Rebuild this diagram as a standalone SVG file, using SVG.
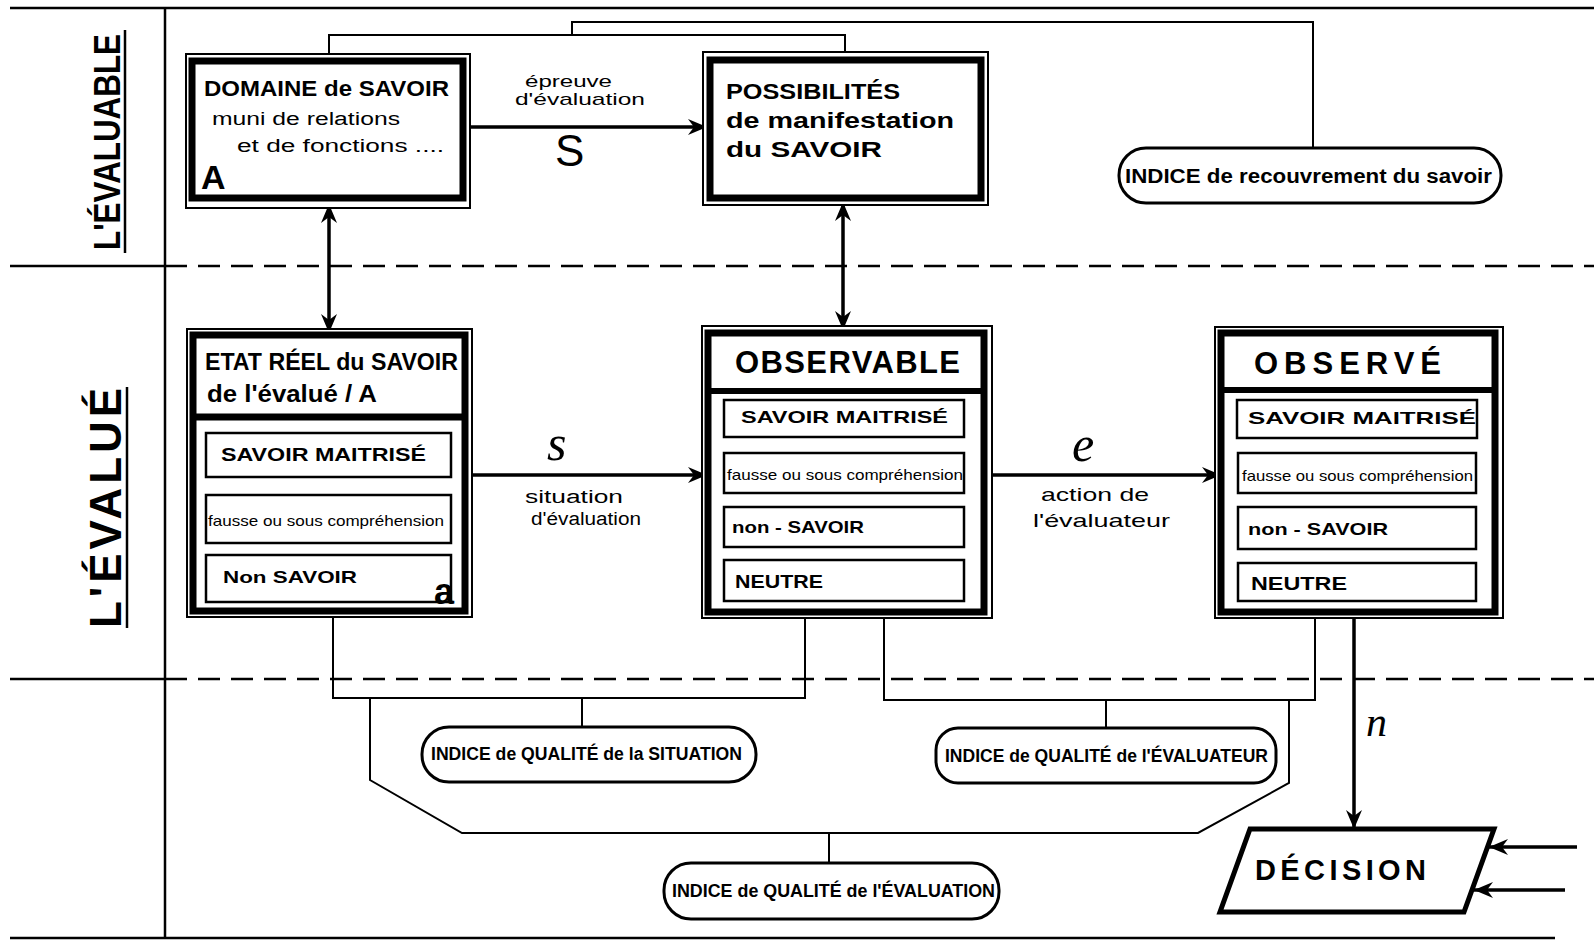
<svg xmlns="http://www.w3.org/2000/svg" width="1594" height="940" viewBox="0 0 1594 940">
<defs>
<style>
.t{font-family:"Liberation Sans",Arial,sans-serif;fill:#000}
.b{font-weight:bold}
.sc{font-family:"Liberation Serif","Times New Roman",serif;font-style:italic;fill:#000}
.ln{fill:none;stroke:#000;stroke-width:2}
.ar{fill:none;stroke:#000;stroke-width:3.5}
.ob{fill:#fff;stroke:#000;stroke-width:2}
.ib{fill:none;stroke:#000;stroke-width:7}
.sb{fill:none;stroke:#000;stroke-width:2.5}
.pill{fill:#fff;stroke:#000;stroke-width:3}
.solid{stroke:#000;stroke-width:2.5}
.dash{stroke:#000;stroke-width:2.5;stroke-dasharray:22 11}
</style>
<marker id="ah" markerUnits="userSpaceOnUse" viewBox="0 0 20 20" markerWidth="20" markerHeight="20" refX="19" refY="10" orient="auto-start-reverse">
<path d="M0,2 L19,10 L0,18 L6,10 Z" fill="#000"/>
</marker>
</defs>
<rect x="0" y="0" width="1594" height="940" fill="#fff"/>

<g id="frame">
<line class="solid" x1="10" y1="8" x2="1594" y2="8"/>
<line class="solid" x1="10" y1="938" x2="1555" y2="938"/>
<line class="solid" x1="165" y1="8" x2="165" y2="938"/>
<line class="solid" x1="10" y1="266" x2="165" y2="266"/>
<line class="dash" x1="165" y1="266" x2="1594" y2="266"/>
<line class="solid" x1="10" y1="679" x2="165" y2="679"/>
<line class="dash" x1="165" y1="679" x2="1594" y2="679"/>
</g>

<g id="lane-evaluable" transform="translate(120,250) rotate(-90)">
<text class="t b" x="0" y="0" font-size="36" textLength="216" lengthAdjust="spacingAndGlyphs">L'ÉVALUABLE</text>
</g>
<line class="solid" x1="125" y1="30" x2="125" y2="253" stroke-width="3"/>
<g id="lane-evalue" transform="translate(121,628) rotate(-90)">
<text class="t b" x="0" y="0" font-size="44" textLength="240" lengthAdjust="spacing">L'ÉVALUÉ</text>
</g>
<line class="solid" x1="127" y1="387" x2="127" y2="628" stroke-width="3"/>

<g id="connectors">
<path class="ln" d="M329,54 V35 H845 V52"/>
<path class="ln" d="M572,35 V22 H1313 V148"/>
<path class="ln" d="M333,617 V698 H805 V618"/>
<path class="ln" d="M370,698 V780 L462,833 H1198 L1289,783 V700"/>
<path class="ln" d="M582,698 V727"/>
<path class="ln" d="M884,618 V700 H1315 V618"/>
<path class="ln" d="M1106,700 V728"/>
<path class="ln" d="M829,833 V863"/>
<line class="ar" x1="470" y1="127" x2="707" y2="127" marker-end="url(#ah)"/>
<line class="ar" x1="329" y1="204" x2="329" y2="333" marker-start="url(#ah)" marker-end="url(#ah)"/>
<line class="ar" x1="843" y1="202" x2="843" y2="330" marker-start="url(#ah)" marker-end="url(#ah)"/>
<line class="ar" x1="472" y1="475" x2="707" y2="475" marker-end="url(#ah)"/>
<line class="ar" x1="992" y1="475" x2="1221" y2="475" marker-end="url(#ah)"/>
<line class="ar" x1="1354" y1="618" x2="1354" y2="829" marker-end="url(#ah)"/>
<line class="ar" x1="1577" y1="847" x2="1489" y2="847" marker-end="url(#ah)"/>
<line class="ar" x1="1565" y1="890" x2="1474" y2="890" marker-end="url(#ah)"/>
<text class="t" x="525" y="87" font-size="17" textLength="87" lengthAdjust="spacingAndGlyphs">épreuve</text>
<text class="t" x="515" y="105" font-size="17" textLength="130" lengthAdjust="spacingAndGlyphs">d'évaluation</text>
<text class="t" x="555" y="166" font-size="44">S</text>
<text class="sc" x="547" y="460" font-size="50">s</text>
<text class="t" x="525" y="503" font-size="18" textLength="98" lengthAdjust="spacingAndGlyphs">situation</text>
<text class="t" x="531" y="525" font-size="18" textLength="110" lengthAdjust="spacingAndGlyphs">d'évaluation</text>
<text class="sc" x="1072" y="461" font-size="50">e</text>
<text class="t" x="1041" y="501" font-size="19" textLength="108" lengthAdjust="spacingAndGlyphs">action de</text>
<text class="t" x="1033" y="527" font-size="19" textLength="137" lengthAdjust="spacingAndGlyphs">l'évaluateur</text>
<text class="sc" x="1366" y="736" font-size="42">n</text>
</g>

<g id="domaine">
<rect class="ob" x="186" y="54" width="284" height="154"/>
<rect class="ib" x="192" y="61" width="271" height="137"/>
<text class="t b" x="204" y="96" font-size="22" textLength="245" lengthAdjust="spacingAndGlyphs">DOMAINE de SAVOIR</text>
<text class="t" x="212" y="125" font-size="18" textLength="188" lengthAdjust="spacingAndGlyphs">muni de relations</text>
<text class="t" x="237" y="152" font-size="18" textLength="207" lengthAdjust="spacingAndGlyphs">et de fonctions ....</text>
<text class="t b" x="201" y="189" font-size="34">A</text>
</g>

<g id="possibilites">
<rect class="ob" x="703" y="52" width="285" height="153"/>
<rect class="ib" x="710" y="60" width="271" height="138"/>
<text class="t b" x="726" y="99" font-size="22" textLength="174" lengthAdjust="spacingAndGlyphs">POSSIBILITÉS</text>
<text class="t b" x="726" y="128" font-size="22" textLength="228" lengthAdjust="spacingAndGlyphs">de manifestation</text>
<text class="t b" x="726" y="157" font-size="22" textLength="156" lengthAdjust="spacingAndGlyphs">du SAVOIR</text>
</g>

<g id="indice-recouvrement">
<rect class="pill" x="1119" y="148" width="382" height="55" rx="27"/>
<text class="t b" x="1125" y="183" font-size="20" textLength="367" lengthAdjust="spacingAndGlyphs">INDICE de recouvrement du savoir</text>
</g>

<g id="etat-reel">
<rect class="ob" x="187" y="329" width="285" height="288"/>
<rect class="ib" x="193" y="335" width="272" height="276"/>
<line x1="193" y1="417" x2="465" y2="417" stroke="#000" stroke-width="7"/>
<text class="t b" x="205" y="370" font-size="23" textLength="253" lengthAdjust="spacingAndGlyphs">ETAT RÉEL du SAVOIR</text>
<text class="t b" x="207" y="402" font-size="23" textLength="170" lengthAdjust="spacingAndGlyphs">de l'évalué / A</text>
<rect class="sb" x="206" y="433" width="245" height="44"/>
<text class="t b" x="221" y="461" font-size="18" textLength="205" lengthAdjust="spacingAndGlyphs">SAVOIR MAITRISÉ</text>
<rect class="sb" x="206" y="495" width="245" height="48"/>
<text class="t" x="208" y="526" font-size="15" textLength="236" lengthAdjust="spacingAndGlyphs">fausse ou sous compréhension</text>
<rect class="sb" x="206" y="555" width="245" height="47"/>
<text class="t b" x="223" y="583" font-size="17" textLength="134" lengthAdjust="spacingAndGlyphs">Non SAVOIR</text>
<text class="t b" x="434" y="604" font-size="36">a</text>
</g>

<g id="observable">
<rect class="ob" x="702" y="326" width="290" height="292"/>
<rect class="ib" x="708" y="333" width="276" height="279"/>
<line x1="708" y1="391" x2="984" y2="391" stroke="#000" stroke-width="6"/>
<text class="t b" x="735" y="373" font-size="31" textLength="225" lengthAdjust="spacing">OBSERVABLE</text>
<rect class="sb" x="724" y="400" width="240" height="37"/>
<text class="t b" x="741" y="423" font-size="17" textLength="207" lengthAdjust="spacingAndGlyphs">SAVOIR MAITRISÉ</text>
<rect class="sb" x="724" y="453" width="240" height="40"/>
<text class="t" x="727" y="480" font-size="15" textLength="236" lengthAdjust="spacingAndGlyphs">fausse ou sous compréhension</text>
<rect class="sb" x="724" y="507" width="240" height="40"/>
<text class="t b" x="732" y="533" font-size="17" textLength="132" lengthAdjust="spacingAndGlyphs">non - SAVOIR</text>
<rect class="sb" x="724" y="560" width="240" height="41"/>
<text class="t b" x="735" y="588" font-size="18" textLength="88" lengthAdjust="spacingAndGlyphs">NEUTRE</text>
</g>

<g id="observe">
<rect class="ob" x="1215" y="327" width="288" height="291"/>
<rect class="ib" x="1221" y="333" width="274" height="279"/>
<line x1="1221" y1="390" x2="1495" y2="390" stroke="#000" stroke-width="6"/>
<text class="t b" x="1254" y="374" font-size="31" textLength="187" lengthAdjust="spacing">OBSERVÉ</text>
<rect class="sb" x="1237" y="400" width="240" height="38"/>
<text class="t b" x="1248" y="424" font-size="17" textLength="228" lengthAdjust="spacingAndGlyphs">SAVOIR MAITRISÉ</text>
<rect class="sb" x="1238" y="453" width="238" height="40"/>
<text class="t" x="1242" y="481" font-size="15" textLength="231" lengthAdjust="spacingAndGlyphs">fausse ou sous compréhension</text>
<rect class="sb" x="1238" y="507" width="238" height="42"/>
<text class="t b" x="1248" y="535" font-size="17" textLength="140" lengthAdjust="spacingAndGlyphs">non - SAVOIR</text>
<rect class="sb" x="1238" y="563" width="238" height="38"/>
<text class="t b" x="1251" y="590" font-size="18" textLength="96" lengthAdjust="spacingAndGlyphs">NEUTRE</text>
</g>

<g id="indice-situation">
<rect class="pill" x="422" y="727" width="334" height="55" rx="27"/>
<text class="t b" x="431" y="760" font-size="18" textLength="311" lengthAdjust="spacingAndGlyphs">INDICE de QUALITÉ de la SITUATION</text>
</g>

<g id="indice-evaluateur">
<rect class="pill" x="936" y="728" width="340" height="55" rx="22"/>
<text class="t b" x="945" y="762" font-size="18" textLength="323" lengthAdjust="spacingAndGlyphs">INDICE de QUALITÉ de l'ÉVALUATEUR</text>
</g>

<g id="indice-evaluation">
<rect class="pill" x="664" y="863" width="335" height="56" rx="27"/>
<text class="t b" x="672" y="897" font-size="18" textLength="323" lengthAdjust="spacingAndGlyphs">INDICE de QUALITÉ de l'ÉVALUATION</text>
</g>

<g id="decision">
<polygon points="1250,829 1494,829 1464,912 1220,912" fill="#fff" stroke="#000" stroke-width="5"/>
<text class="t b" x="1255" y="880" font-size="29" textLength="171" lengthAdjust="spacing">DÉCISION</text>
</g>
</svg>
